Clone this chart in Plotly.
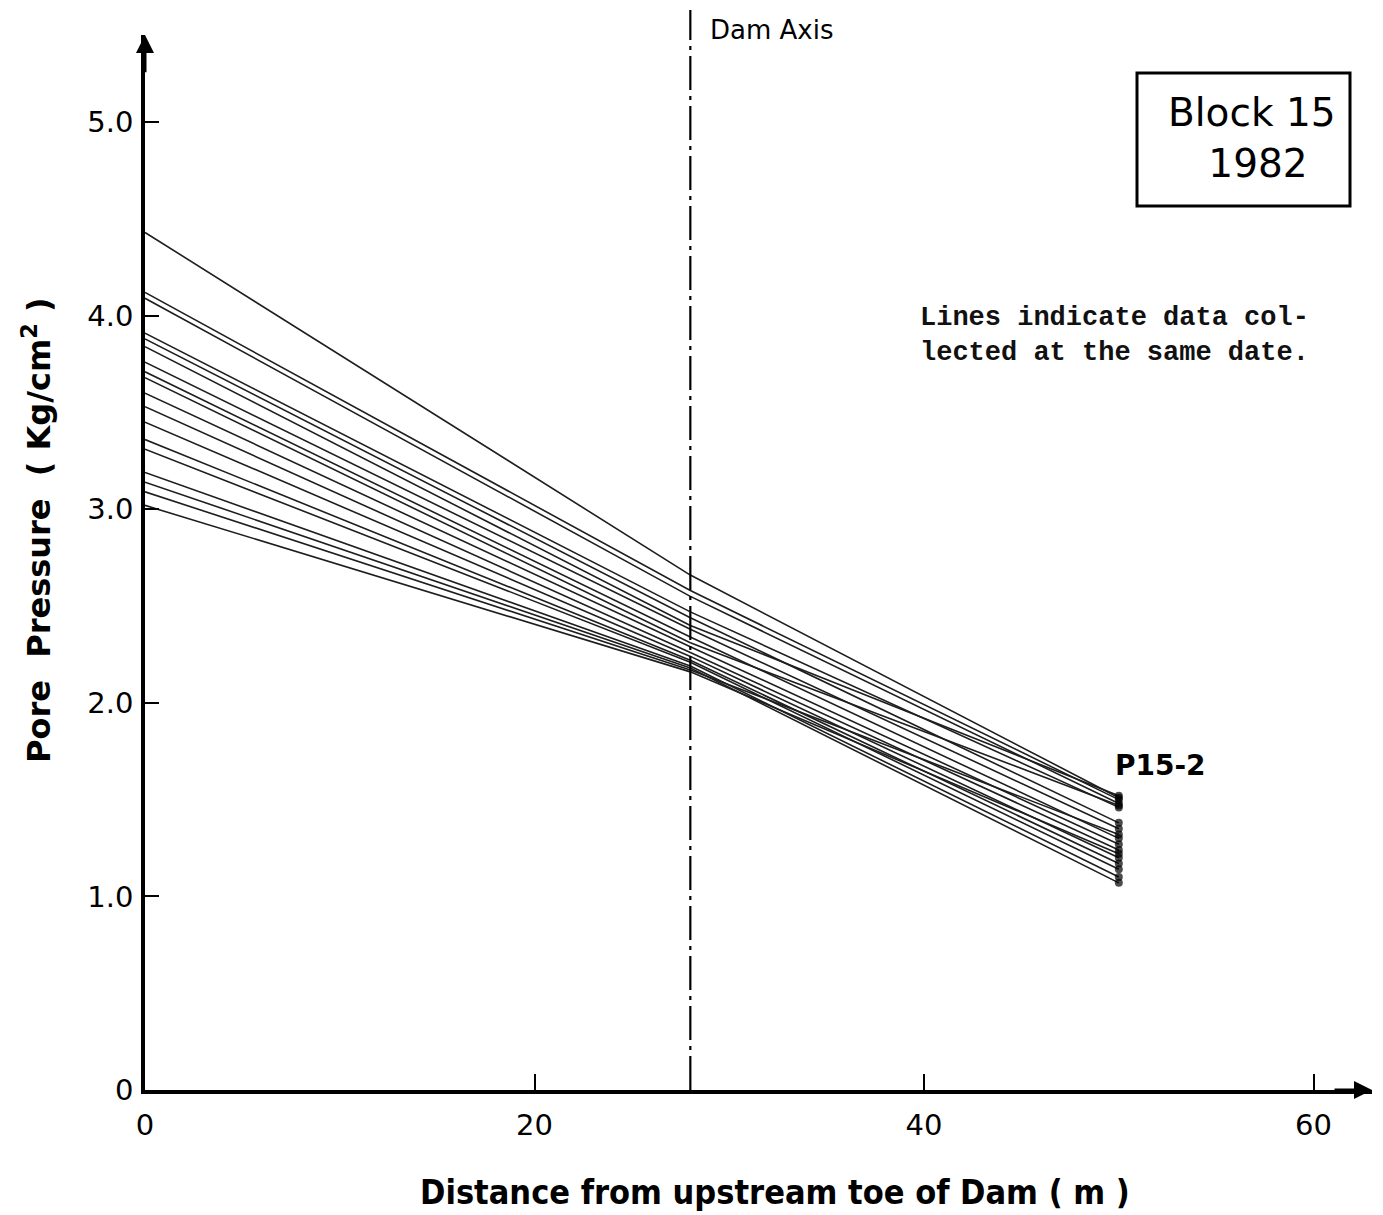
import plotly.graph_objects as go

# Piezometer locations (distance from upstream toe, m)
distances = [0, 28, 50]
# Pore pressure readings (Kg/cm^2), one list per reading date: [x=0, x=28, x=50]
start_vals = [4.43, 4.12, 4.09, 3.91, 3.88, 3.84, 3.76, 3.71, 3.68, 3.60, 3.53, 3.45, 3.36, 3.31, 3.19, 3.14, 3.09, 3.02]
mid_vals   = [2.66, 2.58, 2.55, 2.47, 2.44, 2.40, 2.38, 2.34, 2.31, 2.29, 2.26, 2.24, 2.22, 2.21, 2.19, 2.18, 2.17, 2.16]
end_vals   = [1.51, 1.50, 1.48, 1.46, 1.38, 1.52, 1.35, 1.30, 1.47, 1.27, 1.24, 1.20, 1.17, 1.14, 1.10, 1.07, 1.32, 1.22]

y_ticks = [0, 1, 2, 3, 4, 5]
y_ticktext = ["0", "1.0", "2.0", "3.0", "4.0", "5.0"]
x_ticks = [0, 20, 40, 60]
x_ticktext = ["0", "20", "40", "60"]
dam_axis_x = 28

fig = go.Figure()
for s, m, e in zip(start_vals, mid_vals, end_vals):
    fig.add_trace(go.Scatter(
        x=distances, y=[s, m, e], mode="lines+markers",
        line=dict(color="#1e1e1e", width=1.6),
        marker=dict(size=[0, 0, 8], color="black", line=dict(width=0)),
        showlegend=False, hoverinfo="skip"))

# page offset of 8px (body margin)
OFF = 8
W, H = 1383 - OFF, 1215 - OFF
L, R, T, B = 145 - OFF, 11, 35 - OFF, 125
PW = W - L - R
PH = H - T - B


def px(xpix):
    return (xpix - 145) / PW


def py(ypix):
    return (1090 - ypix) / PH


XMAX, YMAX = 63, 5.45
tickfont = dict(family="DejaVu Sans", size=29, color="black")
fig.update_layout(
    width=W, height=H,
    margin=dict(l=L, r=R, t=T, b=B, autoexpand=False),
    paper_bgcolor="white", plot_bgcolor="white",
    xaxis=dict(range=[0, XMAX], showgrid=False, zeroline=False,
               showline=True, linewidth=3.5, linecolor="black",
               tickmode="array", tickvals=x_ticks, ticktext=x_ticktext,
               ticks="inside", ticklen=16, tickwidth=2, tickcolor="black",
               ticklabelstandoff=6, tickfont=tickfont),
    yaxis=dict(range=[0, YMAX], showgrid=False, zeroline=False,
               showline=True, linewidth=3.5, linecolor="black",
               tickmode="array", tickvals=y_ticks, ticktext=y_ticktext,
               ticks="inside", ticklen=14, tickwidth=2, tickcolor="black",
               ticklabelstandoff=2, tickfont=tickfont),
)

# Arrow heads on the axes
fig.add_annotation(x=XMAX, y=0, ax=XMAX - 2, ay=0, xref="x", yref="y", axref="x", ayref="y",
                   showarrow=True, arrowhead=2, arrowsize=1.2, arrowwidth=3, arrowcolor="black", text="")
fig.add_annotation(x=0, y=YMAX, ax=0, ay=YMAX - 0.2, xref="x", yref="y", axref="x", ayref="y",
                   showarrow=True, arrowhead=2, arrowsize=1.2, arrowwidth=3, arrowcolor="black", text="")

# Dam axis line
fig.add_shape(type="line", xref="x", yref="paper", x0=dam_axis_x, x1=dam_axis_x, y0=0, y1=py(10),
              line=dict(color="black", width=2.2, dash="34px,6px,4px,6px"))
fig.add_annotation(x=px(708), y=py(30), xref="paper", yref="paper", xanchor="left", yanchor="middle",
                   text="Dam Axis", showarrow=False,
                   font=dict(family="DejaVu Sans", size=26, color="black"))

# Block box
fig.add_shape(type="rect", xref="paper", yref="paper",
              x0=px(1137), x1=px(1350), y0=py(206), y1=py(73),
              line=dict(color="black", width=3))
fig.add_annotation(x=px(1252), y=py(138), xref="paper", yref="paper",
                   xanchor="center", yanchor="middle",
                   text="Block 15<br> 1982", showarrow=False, align="center",
                   font=dict(family="DejaVu Sans", size=39, color="black"))

# Note text
fig.add_annotation(x=px(918), y=py(335), xref="paper", yref="paper",
                   xanchor="left", yanchor="middle", align="left", showarrow=False,
                   text="<b>Lines indicate data col-<br>lected at the same date.</b>",
                   font=dict(family="Liberation Mono", size=27, color="#111"))

# Piezometer label
fig.add_annotation(x=px(1113), y=py(765), xref="paper", yref="paper", xanchor="left", yanchor="middle",
                   text="<b>P15-2</b>", showarrow=False,
                   font=dict(family="DejaVu Sans", size=28, color="black"))

# Axis titles
fig.add_annotation(x=px(775), y=py(1192), xref="paper", yref="paper",
                   xanchor="center", yanchor="middle", showarrow=False,
                   text="<b>Distance from upstream toe of Dam ( m )</b>",
                   font=dict(family="DejaVu Sans Condensed", size=34, color="black"))
fig.add_annotation(x=px(37), y=py(530), xref="paper", yref="paper",
                   xanchor="center", yanchor="middle", showarrow=False, textangle=-90,
                   text="<b>Pore  Pressure  ( Kg/cm<sup>2</sup> )</b>",
                   font=dict(family="DejaVu Sans", size=32, color="black"))

fig.write_html("out.html")
